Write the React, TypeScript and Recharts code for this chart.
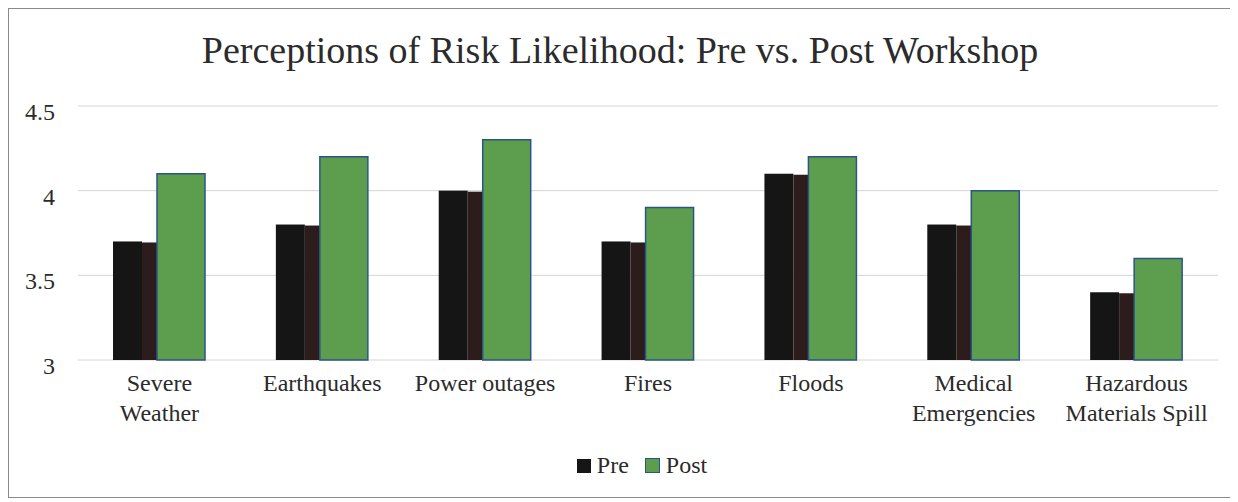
import React from 'react';
import { BarChart, Bar, XAxis, YAxis, CartesianGrid } from 'recharts';

// Risk categories, label lines as shown on the axis
const categories = ['Severe Weather', 'Earthquakes', 'Power outages', 'Fires', 'Floods', 'Medical Emergencies', 'Hazardous Materials Spill'];
const labelLines = [
  ['Severe', 'Weather'],
  ['Earthquakes'],
  ['Power outages'],
  ['Fires'],
  ['Floods'],
  ['Medical', 'Emergencies'],
  ['Hazardous', 'Materials Spill'],
];
const preScores = [3.7, 3.8, 4.0, 3.7, 4.1, 3.8, 3.4];
const postScores = [4.1, 4.2, 4.3, 3.9, 4.2, 4.0, 3.6];
const yTicks = [3, 3.5, 4, 4.5];

const data = categories.map((name, i) => ({
  name,
  pre: preScores[i],
  post: postScores[i],
}));

const FONT = "'Liberation Serif', 'Times New Roman', serif";
const TEXT = '#2b2b2b';
const GREEN = '#5c9e4d';
const GREEN_EDGE = '#2c5488';

// Pre bars look two-toned in the scan: black with a dark brown right strip
function PreShape(props: any) {
  const { x, y, width, height } = props;
  if (height <= 0) return null;
  const split = Math.round(width * 0.66);
  return (
    <g>
      <rect x={x} y={y} width={split} height={height} fill="#151515" />
      <rect x={x + split} y={y + 1} width={width - split} height={height - 1} fill="#2c1c1c" />
    </g>
  );
}

function CategoryTick(props: any) {
  const { x, y, payload } = props;
  const lines: string[] = labelLines[payload.index] || [payload.value];
  return (
    <text x={x} y={y} textAnchor="middle" fill={TEXT} style={{ fontFamily: FONT, fontSize: 24 }}>
      {lines.map((l, i) => (
        <tspan key={i} x={x} dy={i === 0 ? 31 : 30}>{l}</tspan>
      ))}
    </text>
  );
}

function ValueTick(props: any) {
  const { x, y, payload } = props;
  return (
    <text x={x} y={y} dy={14} textAnchor="end" fill={TEXT} style={{ fontFamily: FONT, fontSize: 24 }}>
      {payload.value}
    </text>
  );
}

export default function App() {
  return (
    <div
      style={{
        position: 'relative',
        width: 1222,
        height: 488,
        border: '1px solid #8a8a8a',
        background: '#fff',
        fontFamily: FONT,
      }}
    >
      <div
        style={{
          position: 'absolute',
          top: 19,
          left: 0,
          width: '100%',
          textAlign: 'center',
          fontFamily: FONT,
          fontSize: 38,
          color: TEXT,
        }}
      >
        Perceptions of Risk Likelihood: Pre vs. Post Workshop
      </div>

      <BarChart
        width={1222}
        height={488}
        data={data}
        margin={{ top: 97, right: 13, left: 14, bottom: 77 }}
        barGap={0}
        barCategoryGap="21.5%"
      >
        <CartesianGrid vertical={false} stroke="#d4d4d4" />
        <XAxis
          dataKey="name"
          axisLine={false}
          tickLine={false}
          tickSize={0}
          tickMargin={0}
          interval={0}
          height={60}
          tick={<CategoryTick />}
        />
        <YAxis
          domain={[3, 4.5]}
          ticks={yTicks}
          axisLine={false}
          tickLine={false}
          width={55}
          tickMargin={17}
          tick={<ValueTick />}
        />
        <Bar dataKey="pre" name="Pre" barSize={44} shape={<PreShape />} isAnimationActive={false} />
        <Bar
          dataKey="post"
          name="Post"
          barSize={48}
          fill={GREEN}
          stroke={GREEN_EDGE}
          strokeWidth={1.5}
          isAnimationActive={false}
        />
      </BarChart>

      {/* Legend */}
      <div
        style={{
          position: 'absolute',
          top: 443,
          left: 22,
          width: '100%',
          display: 'flex',
          justifyContent: 'center',
          alignItems: 'center',
          fontFamily: FONT,
          fontSize: 24,
          color: TEXT,
        }}
      >
        <span style={{ display: 'inline-block', width: 14, height: 14, background: '#151515', marginRight: 6 }} />
        <span style={{ marginRight: 16 }}>Pre</span>
        <span
          style={{
            display: 'inline-block',
            width: 13,
            height: 13,
            background: GREEN,
            border: `1px solid ${GREEN_EDGE}`,
            marginRight: 6,
          }}
        />
        <span>Post</span>
      </div>
    </div>
  );
}
